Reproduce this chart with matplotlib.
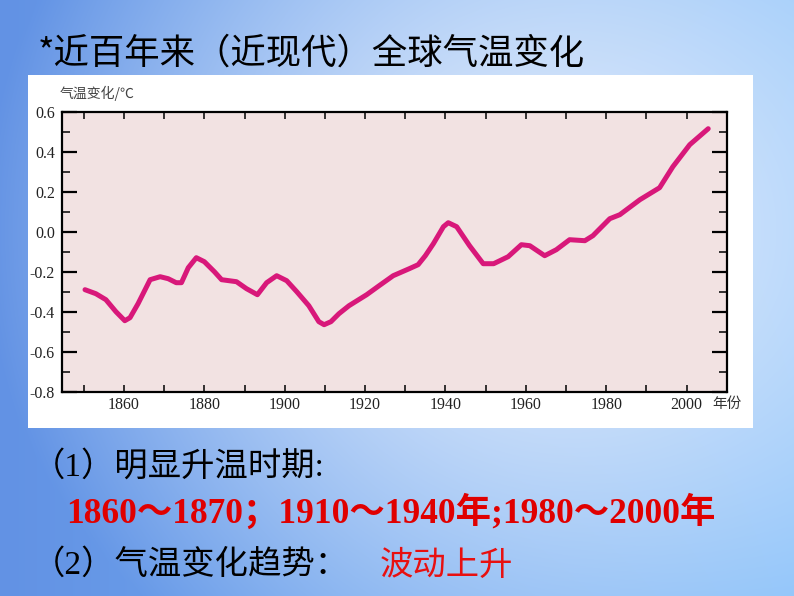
import numpy as np
import matplotlib
matplotlib.use('Agg')
import matplotlib.pyplot as plt
from matplotlib.patches import Rectangle

# values
years = [1850.3, 1853, 1855.5, 1858, 1860.2, 1861.5, 1863.5, 1866.5, 1869, 1871,
         1873, 1874.3, 1876, 1878, 1880, 1882.5, 1884.3, 1888, 1890.5, 1893.2,
         1895.5, 1898, 1900.5, 1903, 1906, 1908.5, 1909.8, 1911.5, 1913.5, 1916,
         1918, 1920.4, 1923.5, 1927, 1931, 1933.2, 1935, 1937, 1939.5, 1940.7,
         1942.8, 1946, 1949.4, 1952, 1955.6, 1958.9, 1961, 1964.7, 1967.6, 1970.9,
         1974.7, 1976.7, 1980.9, 1983.4, 1988.4, 1993.3, 1996.6, 2000.8, 2005.4]
temps = [-0.29, -0.31, -0.34, -0.40, -0.445, -0.43, -0.36, -0.24, -0.225, -0.235,
         -0.255, -0.255, -0.18, -0.13, -0.15, -0.20, -0.24, -0.25, -0.285, -0.315,
         -0.255, -0.22, -0.245, -0.30, -0.37, -0.45, -0.465, -0.45, -0.41, -0.37,
         -0.345, -0.315, -0.27, -0.22, -0.185, -0.165, -0.12, -0.06, 0.025, 0.045,
         0.025, -0.07, -0.16, -0.16, -0.125, -0.065, -0.07, -0.12, -0.09, -0.04,
         -0.045, -0.02, 0.065, 0.085, 0.16, 0.22, 0.325, 0.435, 0.515]

xticks = [1860, 1880, 1900, 1920, 1940, 1960, 1980, 2000]
xminor = [1850, 1870, 1890, 1910, 1930, 1950, 1970, 1990]
yticks = [-0.8, -0.6, -0.4, -0.2, 0.0, 0.2, 0.4, 0.6]
ylabels = ['-0.8', '-0.6', '-0.4', '-0.2', '0.0', '0.2', '0.4', '0.6']

W, H = 794, 596
fig = plt.figure(figsize=(W / 100, H / 100), dpi=100)

# slide background gradient: light centre, deeper blue to the left, paler blue to the right
xx, yy = np.meshgrid(np.arange(W), np.arange(H))
t = np.sqrt(((xx - 540) / 560.0) ** 2 + ((yy - 230) / 520.0) ** 2)
t = np.clip(t, 0, 1) ** 1.2
light = np.array([228, 237, 252]) / 255.0
left_edge = np.array([98, 146, 228]) / 255.0
right_edge = np.array([130, 190, 250]) / 255.0
side = np.clip(xx / W, 0, 1)[..., None]
edge = left_edge[None, None, :] * (1 - side) + right_edge[None, None, :] * side
img = light[None, None, :] * (1 - t[..., None]) + edge * t[..., None]

bg = fig.add_axes([0, 0, 1, 1])
bg.imshow(img, extent=[0, W, H, 0], aspect='auto')
bg.set_xlim(0, W)
bg.set_ylim(H, 0)
bg.axis('off')
bg.add_patch(Rectangle((28, 75), 725, 353, facecolor='white', edgecolor='none'))

# chart
ax = fig.add_axes([61.7 / W, 1 - 391.7 / H, (726.7 - 61.7) / W, (391.7 - 111.7) / H])
ax.set_facecolor('#f2e2e2')
ax.plot(years, temps, color='#d8187a', lw=3.6, solid_capstyle='round', solid_joinstyle='round')
ax.set_xlim(1844.5, 2010)
ax.set_ylim(-0.8, 0.6)
ax.set_xticks(xticks)
ax.set_xticklabels([str(v) for v in xticks])
ax.set_xticks(xminor, minor=True)
ax.set_yticks(yticks)
ax.set_yticklabels(ylabels)
ax.set_yticks(np.arange(-0.7, 0.6, 0.2), minor=True)
ax.tick_params(axis='x', which='both', direction='in', top=True, length=5, width=1.1,
               pad=4, labelsize=11.5)
ax.tick_params(axis='y', which='major', direction='in', right=True, length=11, width=1.6,
               pad=5, labelsize=11.5)
ax.tick_params(axis='y', which='minor', direction='in', right=True, length=6, width=1.1)
for lab in ax.get_xticklabels() + ax.get_yticklabels():
    lab.set_fontfamily('Liberation Serif')
    lab.set_color('#222222')
for s in ax.spines.values():
    s.set_linewidth(1.6)

cjk = ['Noto Sans CJK SC', 'DejaVu Sans']
fig.text(60 / W, 1 - 93 / H, '气温变化/℃', family=cjk, fontsize=10, color='#444444',
         va='center', ha='left')
fig.text(712 / W, 1 - 404 / H, '年份', family=cjk, fontsize=10.5, color='#333333',
         va='center', ha='left')

# slide texts
fig.text(38 / W, 1 - 54 / H, '*近百年来（近现代）全球气温变化', family=cjk, fontsize=25.5,
         color='black', va='center', ha='left')
mix = ['Liberation Serif', 'Noto Sans CJK SC']
fig.text(32 / W, 1 - 467 / H, '（1）明显升温时期:', family=mix, fontsize=24,
         color='black', va='center', ha='left')
fig.text(66 / W, 1 - 513 / H, '1860～1870；1910～1940年;1980～2000年', family=mix,
         fontsize=25.5, fontweight='bold', color='#e00000', va='center', ha='left')
fig.text(32 / W, 1 - 565 / H, '（2）气温变化趋势：', family=mix, fontsize=24,
         color='black', va='center', ha='left')
fig.text(380 / W, 1 - 565 / H, '波动上升', family=cjk, fontsize=24,
         color='#e81010', va='center', ha='left')

fig.savefig('out.png', dpi=100)
